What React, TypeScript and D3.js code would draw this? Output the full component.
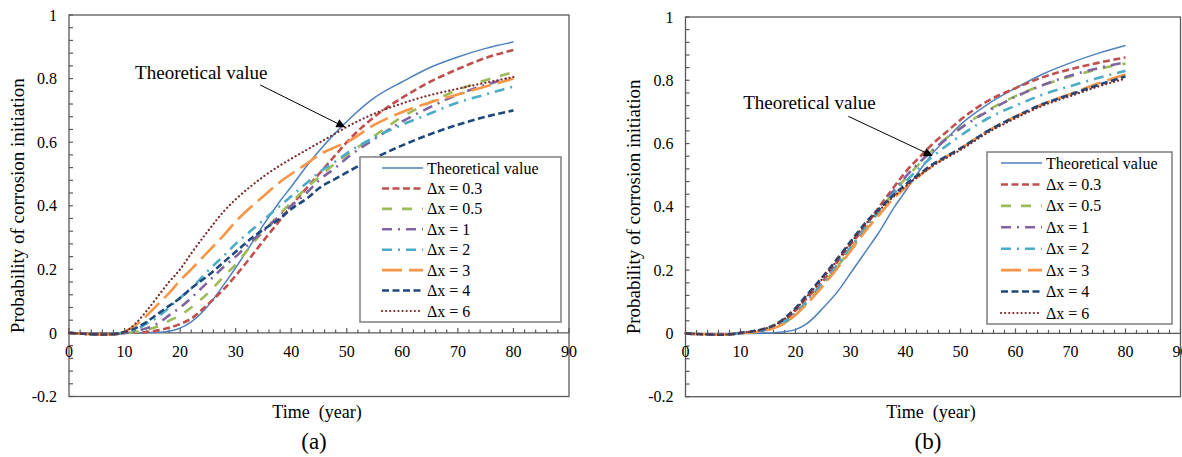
import * as d3 from "d3";
import { useEffect, useRef } from "react";

// years shared by every curve
const years = [0, 2, 4, 6, 8, 10, 12, 14, 16, 18, 20, 22, 25, 28, 30, 33, 35, 38, 40, 43, 45, 48, 50, 55, 60, 65, 70, 75, 80];

const legendLabels = ["Theoretical value", "Δx = 0.3", "Δx = 0.5", "Δx = 1", "Δx = 2", "Δx = 3", "Δx = 4", "Δx = 6"];
const yTickValues = [-0.2, 0, 0.2, 0.4, 0.6, 0.8, 1];
const yTickLabels = ["-0.2", "0", "0.2", "0.4", "0.6", "0.8", "1"];
const xTickValues = [0, 10, 20, 30, 40, 50, 60, 70, 80, 90];

// panel (a)
const theoryA = [0, -0.001, -0.002, -0.003, -0.002, 0, 0, 0.001, 0.002, 0.005, 0.015, 0.035, 0.085, 0.155, 0.205, 0.285, 0.34, 0.415, 0.46, 0.53, 0.572, 0.63, 0.665, 0.74, 0.79, 0.835, 0.868, 0.895, 0.915];
const dx03A = [0, -0.002, -0.004, -0.005, -0.004, 0, 0.001, 0.003, 0.008, 0.016, 0.028, 0.045, 0.09, 0.14, 0.18, 0.245, 0.29, 0.355, 0.4, 0.46, 0.5, 0.56, 0.6, 0.68, 0.74, 0.79, 0.83, 0.865, 0.89];
const dx05A = [0, -0.002, -0.004, -0.005, -0.004, 0, 0.003, 0.01, 0.02, 0.038, 0.055, 0.08, 0.125, 0.18, 0.215, 0.28, 0.32, 0.375, 0.41, 0.46, 0.49, 0.535, 0.56, 0.62, 0.68, 0.725, 0.765, 0.795, 0.82];
const dx1A = [0, -0.002, -0.004, -0.005, -0.004, 0, 0.005, 0.015, 0.03, 0.055, 0.08, 0.11, 0.16, 0.21, 0.24, 0.29, 0.32, 0.37, 0.4, 0.445, 0.48, 0.52, 0.55, 0.61, 0.665, 0.71, 0.75, 0.78, 0.805];
const dx2A = [0, -0.002, -0.004, -0.005, -0.004, 0.002, 0.01, 0.03, 0.05, 0.08, 0.11, 0.14, 0.195, 0.245, 0.28, 0.325, 0.355, 0.4, 0.43, 0.475, 0.505, 0.54, 0.565, 0.615, 0.655, 0.69, 0.725, 0.75, 0.775];
const dx3A = [0, -0.002, -0.004, -0.005, -0.004, 0.005, 0.025, 0.055, 0.09, 0.125, 0.165, 0.2, 0.255, 0.31, 0.35, 0.4, 0.43, 0.475, 0.5, 0.535, 0.56, 0.585, 0.6, 0.655, 0.695, 0.725, 0.75, 0.775, 0.8];
const dx4A = [0, -0.002, -0.004, -0.005, -0.004, 0.003, 0.015, 0.035, 0.06, 0.085, 0.11, 0.14, 0.18, 0.225, 0.255, 0.3, 0.325, 0.36, 0.39, 0.425, 0.455, 0.485, 0.505, 0.55, 0.59, 0.625, 0.655, 0.68, 0.7];
const dx6A = [0, -0.002, -0.004, -0.005, -0.004, 0.003, 0.03, 0.07, 0.115, 0.16, 0.2, 0.25, 0.32, 0.385, 0.42, 0.465, 0.492, 0.527, 0.548, 0.578, 0.598, 0.628, 0.648, 0.69, 0.722, 0.748, 0.768, 0.787, 0.805];

// panel (b)
const theoryB = [0, -0.001, -0.002, -0.003, -0.002, 0, 0, 0.001, 0.002, 0.005, 0.012, 0.03, 0.08, 0.14, 0.19, 0.265, 0.315, 0.4, 0.45, 0.525, 0.57, 0.625, 0.66, 0.725, 0.775, 0.82, 0.855, 0.885, 0.91];
const dx03B = [0, -0.002, -0.003, -0.004, -0.003, 0.001, 0.004, 0.01, 0.02, 0.038, 0.072, 0.11, 0.165, 0.235, 0.28, 0.345, 0.395, 0.465, 0.51, 0.565, 0.6, 0.645, 0.675, 0.735, 0.775, 0.81, 0.835, 0.855, 0.872];
const dx05B = [0, -0.002, -0.003, -0.004, -0.003, 0.001, 0.003, 0.008, 0.017, 0.033, 0.06, 0.095, 0.155, 0.22, 0.265, 0.335, 0.38, 0.45, 0.49, 0.545, 0.58, 0.625, 0.65, 0.705, 0.75, 0.785, 0.812, 0.835, 0.853];
const dx1B = [0, -0.002, -0.003, -0.004, -0.003, 0.001, 0.004, 0.009, 0.019, 0.036, 0.063, 0.1, 0.16, 0.225, 0.27, 0.34, 0.385, 0.455, 0.495, 0.548, 0.58, 0.622, 0.648, 0.702, 0.748, 0.785, 0.815, 0.838, 0.857];
const dx2B = [0, -0.002, -0.003, -0.004, -0.003, 0.001, 0.004, 0.01, 0.02, 0.037, 0.065, 0.1, 0.16, 0.225, 0.27, 0.34, 0.385, 0.445, 0.48, 0.53, 0.56, 0.6, 0.625, 0.68, 0.72, 0.755, 0.782, 0.807, 0.83];
const dx3B = [0, -0.002, -0.003, -0.004, -0.003, 0.001, 0.003, 0.008, 0.016, 0.032, 0.058, 0.092, 0.15, 0.215, 0.26, 0.33, 0.37, 0.43, 0.46, 0.505, 0.53, 0.565, 0.585, 0.64, 0.685, 0.725, 0.757, 0.79, 0.818];
const dx4B = [0, -0.002, -0.003, -0.004, -0.003, 0.002, 0.006, 0.013, 0.025, 0.048, 0.08, 0.12, 0.18, 0.245, 0.29, 0.355, 0.39, 0.44, 0.47, 0.51, 0.535, 0.565, 0.585, 0.64, 0.685, 0.725, 0.755, 0.785, 0.812];
const dx6B = [0, -0.002, -0.003, -0.004, -0.003, 0.002, 0.006, 0.013, 0.025, 0.046, 0.076, 0.115, 0.175, 0.24, 0.285, 0.35, 0.385, 0.435, 0.465, 0.505, 0.53, 0.56, 0.58, 0.635, 0.68, 0.72, 0.75, 0.78, 0.805];

const styles = [
  { color: "#4F81BD", width: 1.5, dash: null, cap: "butt" },
  { color: "#C0504D", width: 2.6, dash: "7 3.5", cap: "butt" },
  { color: "#9BBB59", width: 2.6, dash: "10 10", cap: "butt" },
  { color: "#8064A2", width: 2.6, dash: "10 6 2 6", cap: "butt" },
  { color: "#4BACC6", width: 2.6, dash: "10 6 2 6", cap: "butt" },
  { color: "#F79646", width: 2.6, dash: "20 7", cap: "butt" },
  { color: "#1F497D", width: 2.6, dash: "7 3.5", cap: "butt" },
  { color: "#7B2C2C", width: 2.2, dash: "0.1 4", cap: "round" },
];

const FONT = "Liberation Serif, Times New Roman, serif";

interface PanelProps {
  id: string;
  series: number[][];
  left: number;
  right: number;
  top: number;
  bottom: number;
  legend: { x: number; y: number; w: number; h: number; sx: number };
  note: { tx: number; ty: number; x1: number; y1: number; x2: number; y2: number };
  tag: string;
}

const Panel = ({ id, series, left, right, top, bottom, legend, note, tag }: PanelProps) => {
  const ref = useRef<SVGGElement>(null);

  useEffect(() => {
    const g = d3.select(ref.current).attr("font-family", FONT).attr("fill", "#000");
    g.selectAll("*").remove();

    const x = d3.scaleLinear().domain([0, 90]).range([left, right]);
    const y = d3.scaleLinear().domain([-0.2, 1]).range([bottom, top]);
    const y0 = y(0);
    const axisColor = "#595959";

    g.append("rect")
      .attr("x", left).attr("y", top)
      .attr("width", right - left).attr("height", bottom - top)
      .attr("fill", "white").attr("stroke", axisColor).attr("stroke-width", 1.3);

    // y minor/major ticks, pointing inward
    g.append("g").selectAll("line")
      .data(d3.range(-0.2, 1.0001, 0.04))
      .join("line")
      .attr("x1", left).attr("x2", left + 4)
      .attr("y1", (d) => y(d)).attr("y2", (d) => y(d))
      .attr("stroke", axisColor).attr("stroke-width", 1.2);

    g.append("g").selectAll("text")
      .data(yTickValues)
      .join("text")
      .attr("x", left - 12).attr("y", (d) => y(d)).attr("dy", "0.35em")
      .attr("text-anchor", "end").attr("font-size", 16).attr("font-family", FONT)
      .text((_, i) => yTickLabels[i]);

    // zero line with ticks
    g.append("line")
      .attr("x1", left).attr("x2", right).attr("y1", y0).attr("y2", y0)
      .attr("stroke", axisColor).attr("stroke-width", 1.3);
    g.append("g").selectAll("line")
      .data(d3.range(0, 91, 2))
      .join("line")
      .attr("x1", (d) => x(d)).attr("x2", (d) => x(d))
      .attr("y1", y0).attr("y2", (d) => (d % 10 === 0 ? y0 - 5 : y0 - 3.5))
      .attr("stroke", axisColor).attr("stroke-width", 1.2);

    g.append("g").selectAll("text")
      .data(xTickValues)
      .join("text")
      .attr("x", (d) => x(d)).attr("y", y0 + 24)
      .attr("text-anchor", "middle").attr("font-size", 16).attr("font-family", FONT)
      .text((d) => String(d));

    const line = d3.line<number>()
      .x((_, i) => x(years[i]))
      .y((d) => y(d))
      .curve(d3.curveMonotoneX);

    g.append("g").selectAll("path")
      .data(series)
      .join("path")
      .attr("d", (d) => line(d))
      .attr("fill", "none")
      .attr("stroke", (_, i) => styles[i].color)
      .attr("stroke-width", (_, i) => styles[i].width)
      .attr("stroke-dasharray", (_, i) => styles[i].dash)
      .attr("stroke-linecap", (_, i) => styles[i].cap);

    // legend
    const lg = g.append("g");
    lg.append("rect")
      .attr("x", legend.x).attr("y", legend.y)
      .attr("width", legend.w).attr("height", legend.h)
      .attr("fill", "white").attr("stroke", "#7f7f7f").attr("stroke-width", 1.5);
    const rowH = (legend.h - 22) / 7;
    const rows = lg.selectAll("g.row")
      .data(legendLabels)
      .join("g")
      .attr("class", "row")
      .attr("transform", (_, i) => `translate(0,${legend.y + 11 + i * rowH})`);
    rows.append("line")
      .attr("x1", legend.x + legend.sx).attr("x2", legend.x + legend.sx + 41)
      .attr("stroke", (_, i) => styles[i].color)
      .attr("stroke-width", (_, i) => styles[i].width)
      .attr("stroke-dasharray", (_, i) => styles[i].dash)
      .attr("stroke-linecap", (_, i) => styles[i].cap);
    rows.append("text")
      .attr("x", legend.x + legend.sx + 45).attr("dy", "0.35em")
      .attr("font-size", 16).attr("font-family", FONT)
      .text((d) => d);

    // annotation arrow
    const defs = g.append("defs");
    defs.append("marker")
      .attr("id", `arrow-${id}`)
      .attr("viewBox", "0 0 10 10").attr("refX", 9).attr("refY", 5)
      .attr("markerWidth", 11).attr("markerHeight", 9)
      .attr("markerUnits", "userSpaceOnUse")
      .attr("orient", "auto")
      .append("path").attr("d", "M0,0L10,5L0,10Z").attr("fill", "black");
    g.append("line")
      .attr("x1", x(note.x1)).attr("y1", y(note.y1))
      .attr("x2", x(note.x2)).attr("y2", y(note.y2))
      .attr("stroke", "black").attr("stroke-width", 1)
      .attr("marker-end", `url(#arrow-${id})`);
    g.append("text")
      .attr("x", x(note.tx)).attr("y", y(note.ty)).attr("dy", "0.35em")
      .attr("font-size", 19).attr("font-family", FONT)
      .text("Theoretical value");

    // axis titles
    const cy = (top + bottom) / 2;
    g.append("text")
      .attr("transform", `translate(${left - 52},${cy}) rotate(-90)`)
      .attr("dy", "0.35em").attr("text-anchor", "middle").attr("font-size", 19).attr("font-family", FONT)
      .text("Probability of corrosion initiation");
    g.append("text")
      .attr("x", (left + right) / 2 - 2).attr("y", 412).attr("dy", "0.35em")
      .attr("text-anchor", "middle").attr("font-size", 18).attr("font-family", FONT)
      .attr("xml:space", "preserve")
      .text("Time  (year)");
    g.append("text")
      .attr("x", (left + right) / 2 - 5).attr("y", 441).attr("dy", "0.35em")
      .attr("text-anchor", "middle").attr("font-size", 23).attr("font-family", FONT)
      .text(tag);
  }, [id, series, left, right, top, bottom, legend, note, tag]);

  return <g ref={ref} />;
};

const seriesA = [theoryA, dx03A, dx05A, dx1A, dx2A, dx3A, dx4A, dx6A];
const seriesB = [theoryB, dx03B, dx05B, dx1B, dx2B, dx3B, dx4B, dx6B];
const legendA = { x: 360, y: 157, w: 201, h: 165, sx: 22 };
const legendB = { x: 987, y: 152, w: 185, h: 172, sx: 14 };
const noteA = { tx: 11.9, ty: 0.82, x1: 34.4, y1: 0.78, x2: 49.6, y2: 0.648 };
const noteB = { tx: 10.5, ty: 0.73, x1: 29.6, y1: 0.686, x2: 44.8, y2: 0.562 };

export default function App() {
  return (
    <svg
      width={1182}
      height={457}
      style={{ position: "absolute", left: 0, top: 0, background: "white" }}
      fontFamily={FONT}
    >
      <Panel id="a" series={seriesA} left={69} right={569} top={15} bottom={396.5} legend={legendA} note={noteA} tag="(a)" />
      <Panel id="b" series={seriesB} left={685.5} right={1180.5} top={17} bottom={396.7} legend={legendB} note={noteB} tag="(b)" />
    </svg>
  );
}
